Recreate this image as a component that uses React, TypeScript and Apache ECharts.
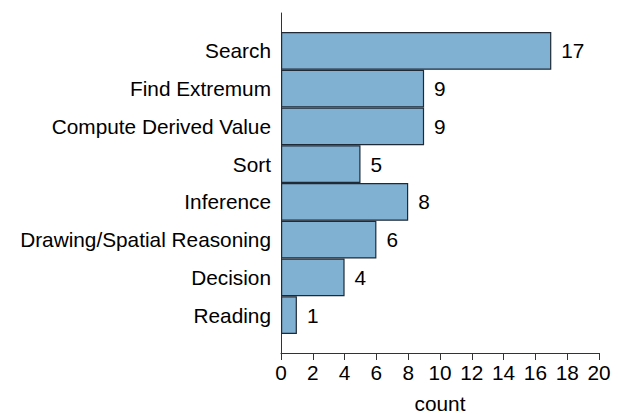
import React, { useEffect, useRef } from "react";
import * as echarts from "echarts";

const categories = [
  "Search",
  "Find Extremum",
  "Compute Derived Value",
  "Sort",
  "Inference",
  "Drawing/Spatial Reasoning",
  "Decision",
  "Reading",
];
const counts = [17, 9, 9, 5, 8, 6, 4, 1];
const xTicks = [0, 2, 4, 6, 8, 10, 12, 14, 16, 18, 20];

const FONT = "Liberation Sans, Arial, Helvetica, sans-serif";
const FS = 20.8;

export default function App() {
  const ref = useRef<HTMLDivElement>(null);
  useEffect(() => {
    if (!ref.current) return;
    const chart = echarts.init(ref.current, undefined, { renderer: "svg" });
    chart.setOption({
      animation: false,
      textStyle: { fontFamily: FONT },
      grid: [
        { left: 281, right: 26, top: 32, bottom: 80, containLabel: false, outerBoundsMode: "none" },
        { left: 281, right: 26, top: 13, bottom: 61, containLabel: false, outerBoundsMode: "none" },
      ],
      xAxis: [
        {
          type: "value",
          gridIndex: 0,
          min: xTicks[0],
          max: xTicks[xTicks.length - 1],
          interval: 2,
          offset: 19,
          name: "count",
          nameLocation: "middle",
          nameGap: 40,
          nameTextStyle: { color: "#000", fontSize: FS, fontFamily: FONT },
          axisLine: { show: true, lineStyle: { color: "#333", width: 1 } },
          axisTick: { show: true, length: 7, lineStyle: { color: "#333" } },
          axisLabel: { color: "#000", fontSize: FS, margin: 9, fontFamily: FONT },
          splitLine: { show: false },
        },
        { type: "value", gridIndex: 1, show: false, min: 0, max: 1 },
      ],
      yAxis: [
        {
          type: "category",
          gridIndex: 0,
          data: categories,
          inverse: true,
          axisLine: { show: false },
          axisTick: { show: false },
          splitLine: { show: false },
          axisLabel: { color: "#000", fontSize: FS, margin: 10, fontFamily: FONT },
        },
        {
          type: "value",
          gridIndex: 1,
          min: 0,
          max: 1,
          axisLine: { show: true, lineStyle: { color: "#333", width: 1 } },
          axisTick: { show: false },
          axisLabel: { show: false },
          splitLine: { show: false },
        },
      ],
      series: [
        {
          type: "bar",
          xAxisIndex: 0,
          yAxisIndex: 0,
          data: counts,
          barWidth: "100%",
          itemStyle: { color: "#80b1d3", borderColor: "#1f2a36", borderWidth: 1.2 },
          label: {
            show: true,
            position: "right",
            distance: 10,
            color: "#000",
            fontSize: FS,
            fontFamily: FONT,
          },
        },
      ],
    });
    return () => chart.dispose();
  }, []);
  return (
    <div
      ref={ref}
      style={{ position: "absolute", left: 0, top: 0, width: 625, height: 414 }}
    />
  );
}
